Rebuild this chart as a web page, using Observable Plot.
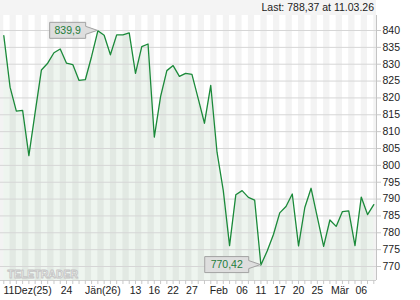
<!DOCTYPE html>
<html><head><meta charset="utf-8">
<script src="https://cdn.jsdelivr.net/npm/d3@7"></script>
<script src="https://cdn.jsdelivr.net/npm/@observablehq/plot@0.6"></script>
<style>
body{margin:0;background:#fff;font-family:"Liberation Sans",Arial,sans-serif;}
#hdr{width:376px;height:15px;background:#f4f4f4;font-size:10.5px;line-height:15px;text-align:right;color:#222;box-sizing:border-box;padding-right:2px;white-space:nowrap;overflow:hidden}
</style></head><body>
<div id="hdr"></div>
<div id="chart"></div>
<script>
// closing prices, one per trading day (10 Dec 2025 .. 11 Mar 2026)
const values = [
  838.5, 823.2, 816.1, 816.3, 802.9, 815.7, 828.3, 830.3, 833.4, 834.5,
  830.3, 829.9, 825.2, 825.4, 832.3, 839.9, 838.6, 832.8, 838.7, 838.7,
  839.3, 827.3, 835.2, 836.0, 808.4, 820.4, 828.1, 829.6, 826.4, 827.3,
  827.0, 819.8, 812.5, 823.7, 803.9, 792.5, 776.2, 791.3, 792.5, 790.5,
  789.7, 770.42, 774.6, 779.5, 785.9, 787.8, 791.5, 776.1, 787.5, 793.2,
  784.6, 776.0, 783.8, 781.9, 786.3, 786.5, 776.2, 790.6, 785.4, 788.37
];
const tickLabels = ["11Dez(25)", "24", "Jän(26)", "13", "16", "22", "27", "Feb", "06", "11", "17", "20", "25", "Mär", "06"];
const tickPositions = [3.78, 10, 15.8, 21, 24, 27, 30, 34.3, 38, 41, 44, 47, 50, 53.6, 57];
const yTicks = [770, 775, 780, 785, 790, 795, 800, 805, 810, 815, 820, 825, 830, 835, 840];
const lastDate = "11.03.26";
const watermark = "TELETRADER";

const fmt = v => String(v).replace(".", ",");
document.getElementById("hdr").textContent = "Last: " + fmt(values[values.length - 1]) + " at " + lastDate;

const data = values.map((v, i) => ({i, v}));
const n = values.length;
const xDomain = [-0.526, n - 1 + 0.43];
const yDomain = [765.85, 844.45];
const stripes = d3.range(-1, n + 1).filter(i => Math.abs(i % 2) === 1);
const labelAt = new Map(tickPositions.map((p, k) => [p, tickLabels[k]]));

const chart = Plot.plot({
  width: 420,
  height: 285,
  marginTop: 0,
  marginBottom: 20,
  marginLeft: 0,
  marginRight: 44,
  style: {fontFamily: "'Liberation Sans', Arial, sans-serif", fontSize: "10.5px", color: "#222", background: "#fff", overflow: "visible"},
  x: {type: "linear", domain: xDomain, label: null},
  y: {domain: yDomain, label: null},
  marks: [
    Plot.rect(stripes, {x1: d => d, x2: d => d + 1, fill: "#f3f3f3", clip: true}),
    Plot.areaY(data, {x: "i", y1: yDomain[0], y2: "v", fill: "#0a6e1e", fillOpacity: 0.07}),
    Plot.gridY(yTicks, {stroke: "#d6d6d6", strokeOpacity: 1}),
    Plot.axisY({anchor: "right", label: null, ticks: yTicks, tickSize: 4, tickPadding: 2, stroke: "#c8c8c8", fill: "#222", tickFormat: d => d}),
    Plot.ruleX([xDomain[1]], {stroke: "#c4c4c4"}),
    Plot.ruleY([yDomain[0]], {stroke: "#d0d0d0"}),
    Plot.axisX({label: null, ticks: d3.range(n), tickSize: 4, stroke: "#c8c8c8", tickFormat: () => ""}),
    Plot.axisX({label: null, ticks: tickPositions, tickSize: 0, tickPadding: 6, fill: "#222", tickFormat: d => labelAt.get(d)}),
    Plot.text([watermark], {frameAnchor: "bottom-left", text: d => d, dx: 7, dy: -3, lineAnchor: "bottom", textAnchor: "start",
      fill: "#fff", stroke: "#c4c4c4", strokeWidth: 0.9, paintOrder: "fill", fontSize: 10.5, fontWeight: "bold", letterSpacing: "0.5px"}),
    Plot.lineY(data, {x: "i", y: "v", stroke: "#1b8a3a", strokeWidth: 1.3})
  ]
});
document.getElementById("chart").appendChild(chart);

// callouts for max and min, positioned through Plot's scales
const sx = chart.scale("x"), sy = chart.scale("y");
const svg = d3.select(chart);
function callout(idx, w) {
  const px = sx.apply(idx), py = sy.apply(values[idx]);
  const right = px - 11.7, left = right - w, top = py - 8, bottom = py + 8;
  const g = svg.append("g");
  g.append("path")
    .attr("d", `M${left},${top}H${right}V${py - 4}L${px},${py}L${right},${py + 4}V${bottom}H${left}Z`)
    .attr("fill", "#dedede").attr("stroke", "#a2a2a2").attr("stroke-width", 1);
  g.append("text")
    .attr("x", (left + right) / 2).attr("y", py).attr("dy", "0.36em")
    .attr("text-anchor", "middle").attr("fill", "#1d7d3a")
    .attr("font-size", "10.5px").attr("font-family", "'Liberation Sans', Arial, sans-serif")
    .text(fmt(values[idx]));
}
const iMax = d3.maxIndex(values), iMin = d3.minIndex(values);
callout(iMax, 36);
callout(iMin, 44);
</script>
</body></html>
